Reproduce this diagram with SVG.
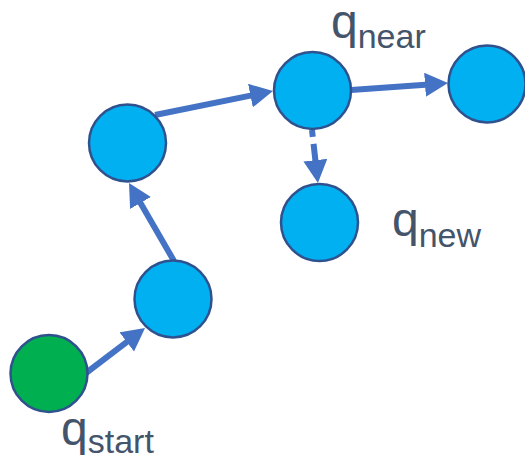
<svg xmlns="http://www.w3.org/2000/svg" width="525" height="459" viewBox="0 0 525 459">
<defs>
<style>
.node{fill:#00B0F0;stroke:#2F528F;stroke-width:2.5}
.start{fill:#00B050;stroke:#2F528F;stroke-width:2.5}
.edge{stroke:#4472C4;stroke-width:6;fill:none;marker-end:url(#ah)}
.lbl{font-family:"Liberation Sans",Arial,sans-serif;fill:#44546A;font-size:48px}
.sub{font-size:34px}
</style>
<marker id="ah" markerUnits="userSpaceOnUse" markerWidth="26" markerHeight="26" refX="11" refY="12" orient="auto" viewBox="0 0 26 26">
<path d="M0,0 L23,12 L0,24 z" fill="#4472C4"/>
</marker>
</defs>
<g id="connectors">
<line class="edge" x1="86" y1="373" x2="135.5" y2="335.3"/>
<line class="edge" x1="174" y1="261" x2="135" y2="193.4"/>
<line class="edge" x1="155" y1="115" x2="261.2" y2="93.4"/>
<line class="edge" x1="351" y1="90" x2="436" y2="83.9"/>
<line class="edge" x1="312" y1="130" x2="316.6" y2="171.1" stroke-dasharray="7,7,100"/>
</g>
<g id="q_start"><circle class="start" cx="49" cy="373.5" r="38.5"/></g>
<g id="n1"><circle class="node" cx="173" cy="299" r="38.5"/></g>
<g id="n2"><circle class="node" cx="127.5" cy="143" r="38.5"/></g>
<g id="q_near"><circle class="node" cx="312.5" cy="90.5" r="38.5"/></g>
<g id="n_right"><circle class="node" cx="487" cy="84" r="38.5"/></g>
<g id="q_new"><circle class="node" cx="319.5" cy="222.5" r="38.5"/></g>
<g id="labels">
<text class="lbl" x="331" y="38">q<tspan class="sub" dy="10">near</tspan></text>
<text class="lbl" x="392" y="236">q<tspan class="sub" dy="11">new</tspan></text>
<text class="lbl" x="61" y="445">q<tspan class="sub" dy="8">start</tspan></text>
</g>
</svg>
